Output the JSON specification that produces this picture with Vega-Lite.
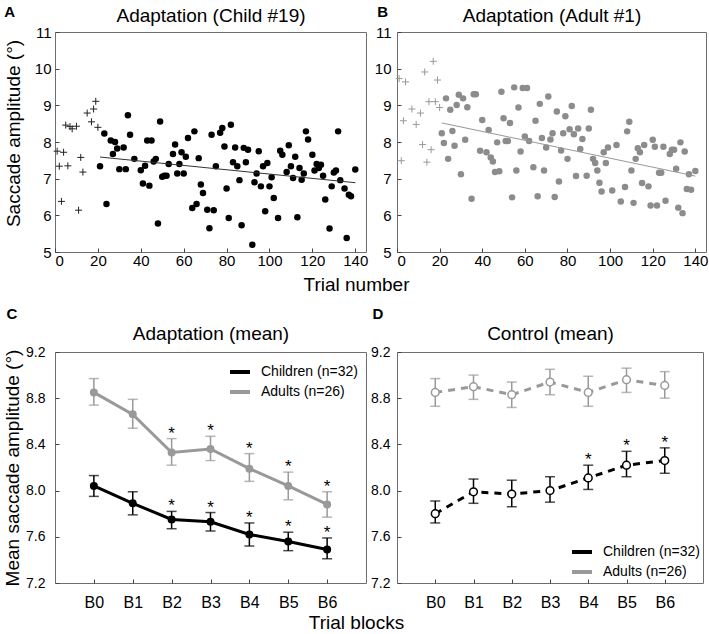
{
  "$schema": "https://vega.github.io/schema/vega-lite/v6.json",
  "padding": {"left": 3, "top": 4, "right": 0, "bottom": 0},
  "background": "white",
  "config": {
    "font": "Liberation Sans",
    "view": {"stroke": "#6e6e6e", "strokeWidth": 1},
    "axis": {"grid": false, "domain": false, "tickSize": -4, "tickColor": "#444", "labelFont": "Liberation Sans", "labelFontSize": 15, "labelColor": "#000", "titleFont": "Liberation Sans", "titleFontSize": 19, "titleFontWeight": "normal", "titleColor": "#000"},
    "title": {"font": "Liberation Sans", "fontSize": 15, "fontWeight": "bold", "anchor": "start", "frame": "bounds", "color": "#000"},
    "legend": {"labelFont": "Liberation Sans", "labelFontSize": 14, "labelColor": "#000"}
  },
  "datasets": {
    "childPre": [
      {"trial": 1, "amp": 7.75}, {"trial": 2, "amp": 7.34}, {"trial": 3, "amp": 6.38}, {"trial": 4, "amp": 7.72}, {"trial": 5, "amp": 8.46}, {"trial": 6, "amp": 7.35}, {"trial": 7, "amp": 8.42}, {"trial": 8, "amp": 8.36}, {"trial": 10, "amp": 8.43}, {"trial": 11, "amp": 6.14}, {"trial": 12, "amp": 7.58}, {"trial": 13, "amp": 7.18}, {"trial": 15, "amp": 8.79}, {"trial": 17, "amp": 8.55}, {"trial": 18, "amp": 8.9}, {"trial": 19, "amp": 9.11}, {"trial": 20, "amp": 8.4}
    ],
    "childAdapt": [
      {"trial": 21, "amp": 7.34}, {"trial": 23, "amp": 8.23}, {"trial": 24, "amp": 6.31}, {"trial": 26, "amp": 8.04}, {"trial": 27, "amp": 7.67}, {"trial": 28, "amp": 8.0}, {"trial": 29, "amp": 7.82}, {"trial": 30, "amp": 7.26}, {"trial": 32, "amp": 7.85}, {"trial": 33, "amp": 7.26}, {"trial": 34, "amp": 8.73}, {"trial": 35, "amp": 8.2}, {"trial": 37, "amp": 7.54}, {"trial": 40, "amp": 7.23}, {"trial": 41, "amp": 6.87}, {"trial": 42, "amp": 7.35}, {"trial": 43, "amp": 8.04}, {"trial": 44, "amp": 6.81}, {"trial": 45, "amp": 8.04}, {"trial": 46, "amp": 7.47}, {"trial": 47, "amp": 7.54}, {"trial": 48, "amp": 5.78}, {"trial": 49, "amp": 8.56}, {"trial": 50, "amp": 7.05}, {"trial": 51, "amp": 7.08}, {"trial": 52, "amp": 7.08}, {"trial": 53, "amp": 7.4}, {"trial": 55, "amp": 7.67}, {"trial": 56, "amp": 7.93}, {"trial": 57, "amp": 7.14}, {"trial": 58, "amp": 7.4}, {"trial": 59, "amp": 7.72}, {"trial": 60, "amp": 7.14}, {"trial": 61, "amp": 7.6}, {"trial": 62, "amp": 8.11}, {"trial": 64, "amp": 6.2}, {"trial": 65, "amp": 8.29}, {"trial": 66, "amp": 6.31}, {"trial": 67, "amp": 7.56}, {"trial": 68, "amp": 6.84}, {"trial": 69, "amp": 6.61}, {"trial": 71, "amp": 6.15}, {"trial": 72, "amp": 5.65}, {"trial": 73, "amp": 8.2}, {"trial": 74, "amp": 6.14}, {"trial": 75, "amp": 7.34}, {"trial": 77, "amp": 8.25}, {"trial": 78, "amp": 8.38}, {"trial": 79, "amp": 7.88}, {"trial": 80, "amp": 6.73}, {"trial": 81, "amp": 5.93}, {"trial": 82, "amp": 8.47}, {"trial": 83, "amp": 7.45}, {"trial": 84, "amp": 7.85}, {"trial": 85, "amp": 7.34}, {"trial": 86, "amp": 6.96}, {"trial": 87, "amp": 5.73}, {"trial": 88, "amp": 7.84}, {"trial": 89, "amp": 7.45}, {"trial": 90, "amp": 7.79}, {"trial": 92, "amp": 5.2}, {"trial": 93, "amp": 6.9}, {"trial": 94, "amp": 7.14}, {"trial": 95, "amp": 7.75}, {"trial": 96, "amp": 6.79}, {"trial": 97, "amp": 7.34}, {"trial": 98, "amp": 6.11}, {"trial": 99, "amp": 7.43}, {"trial": 100, "amp": 6.79}, {"trial": 101, "amp": 7.04}, {"trial": 102, "amp": 6.47}, {"trial": 104, "amp": 5.93}, {"trial": 105, "amp": 7.76}, {"trial": 106, "amp": 7.65}, {"trial": 108, "amp": 7.18}, {"trial": 109, "amp": 7.91}, {"trial": 110, "amp": 7.34}, {"trial": 111, "amp": 7.02}, {"trial": 112, "amp": 7.6}, {"trial": 113, "amp": 5.95}, {"trial": 114, "amp": 7.29}, {"trial": 115, "amp": 6.97}, {"trial": 116, "amp": 7.14}, {"trial": 117, "amp": 8.29}, {"trial": 118, "amp": 8.07}, {"trial": 120, "amp": 7.65}, {"trial": 121, "amp": 7.22}, {"trial": 122, "amp": 7.4}, {"trial": 123, "amp": 7.29}, {"trial": 124, "amp": 7.38}, {"trial": 125, "amp": 7.08}, {"trial": 126, "amp": 6.43}, {"trial": 128, "amp": 5.64}, {"trial": 129, "amp": 6.79}, {"trial": 130, "amp": 7.17}, {"trial": 131, "amp": 7.22}, {"trial": 132, "amp": 8.29}, {"trial": 133, "amp": 6.96}, {"trial": 135, "amp": 6.73}, {"trial": 136, "amp": 5.38}, {"trial": 137, "amp": 6.56}, {"trial": 138, "amp": 6.52}, {"trial": 140, "amp": 7.25}
    ],
    "childFit": [{"trial": 21, "amp": 7.59}, {"trial": 140, "amp": 6.89}],
    "adultPre": [
      {"trial": 1, "amp": 9.73}, {"trial": 2, "amp": 7.49}, {"trial": 3, "amp": 8.58}, {"trial": 4, "amp": 9.64}, {"trial": 7, "amp": 8.9}, {"trial": 9, "amp": 8.48}, {"trial": 11, "amp": 8.79}, {"trial": 12, "amp": 7.93}, {"trial": 13, "amp": 9.91}, {"trial": 14, "amp": 7.45}, {"trial": 15, "amp": 9.1}, {"trial": 16, "amp": 7.79}, {"trial": 17, "amp": 10.2}, {"trial": 18, "amp": 9.1}, {"trial": 19, "amp": 9.69}, {"trial": 20, "amp": 8.94}
    ],
    "adultAdapt": [
      {"trial": 21, "amp": 8.24}, {"trial": 22, "amp": 7.97}, {"trial": 23, "amp": 9.19}, {"trial": 24, "amp": 7.54}, {"trial": 25, "amp": 8.88}, {"trial": 26, "amp": 8.3}, {"trial": 27, "amp": 7.9}, {"trial": 28, "amp": 9.01}, {"trial": 29, "amp": 9.29}, {"trial": 30, "amp": 7.12}, {"trial": 31, "amp": 9.19}, {"trial": 32, "amp": 8.06}, {"trial": 33, "amp": 8.95}, {"trial": 35, "amp": 6.45}, {"trial": 36, "amp": 9.3}, {"trial": 37, "amp": 9.3}, {"trial": 39, "amp": 7.76}, {"trial": 40, "amp": 8.6}, {"trial": 42, "amp": 7.72}, {"trial": 43, "amp": 8.33}, {"trial": 44, "amp": 7.58}, {"trial": 45, "amp": 7.47}, {"trial": 46, "amp": 7.18}, {"trial": 47, "amp": 7.99}, {"trial": 48, "amp": 7.2}, {"trial": 49, "amp": 9.37}, {"trial": 50, "amp": 8.65}, {"trial": 51, "amp": 8.03}, {"trial": 52, "amp": 8.03}, {"trial": 53, "amp": 8.52}, {"trial": 54, "amp": 6.49}, {"trial": 55, "amp": 9.49}, {"trial": 56, "amp": 7.22}, {"trial": 57, "amp": 8.94}, {"trial": 58, "amp": 7.74}, {"trial": 59, "amp": 9.47}, {"trial": 60, "amp": 8.15}, {"trial": 61, "amp": 9.47}, {"trial": 62, "amp": 8.03}, {"trial": 64, "amp": 7.31}, {"trial": 65, "amp": 8.58}, {"trial": 66, "amp": 6.52}, {"trial": 67, "amp": 9.04}, {"trial": 68, "amp": 8.11}, {"trial": 69, "amp": 7.22}, {"trial": 70, "amp": 7.85}, {"trial": 71, "amp": 9.24}, {"trial": 72, "amp": 8.07}, {"trial": 73, "amp": 8.24}, {"trial": 74, "amp": 6.5}, {"trial": 75, "amp": 8.83}, {"trial": 76, "amp": 6.92}, {"trial": 77, "amp": 7.77}, {"trial": 78, "amp": 8.24}, {"trial": 79, "amp": 8.7}, {"trial": 80, "amp": 7.54}, {"trial": 81, "amp": 8.35}, {"trial": 82, "amp": 8.98}, {"trial": 83, "amp": 8.21}, {"trial": 84, "amp": 7.07}, {"trial": 85, "amp": 8.37}, {"trial": 86, "amp": 7.81}, {"trial": 87, "amp": 8.08}, {"trial": 89, "amp": 7.08}, {"trial": 90, "amp": 8.37}, {"trial": 91, "amp": 8.88}, {"trial": 92, "amp": 7.54}, {"trial": 93, "amp": 7.43}, {"trial": 94, "amp": 7.22}, {"trial": 95, "amp": 6.89}, {"trial": 96, "amp": 6.65}, {"trial": 97, "amp": 7.72}, {"trial": 98, "amp": 7.43}, {"trial": 99, "amp": 7.85}, {"trial": 101, "amp": 6.68}, {"trial": 103, "amp": 7.92}, {"trial": 105, "amp": 6.38}, {"trial": 107, "amp": 6.77}, {"trial": 108, "amp": 8.29}, {"trial": 109, "amp": 8.55}, {"trial": 110, "amp": 7.22}, {"trial": 111, "amp": 6.34}, {"trial": 112, "amp": 7.54}, {"trial": 113, "amp": 7.83}, {"trial": 114, "amp": 7.72}, {"trial": 115, "amp": 6.88}, {"trial": 116, "amp": 7.92}, {"trial": 118, "amp": 6.79}, {"trial": 119, "amp": 6.27}, {"trial": 120, "amp": 8.06}, {"trial": 121, "amp": 7.87}, {"trial": 122, "amp": 6.27}, {"trial": 123, "amp": 7.16}, {"trial": 124, "amp": 7.16}, {"trial": 125, "amp": 7.87}, {"trial": 126, "amp": 6.4}, {"trial": 128, "amp": 7.67}, {"trial": 129, "amp": 7.79}, {"trial": 130, "amp": 7.79}, {"trial": 131, "amp": 7.27}, {"trial": 132, "amp": 6.21}, {"trial": 133, "amp": 7.99}, {"trial": 134, "amp": 6.06}, {"trial": 135, "amp": 7.74}, {"trial": 136, "amp": 6.72}, {"trial": 137, "amp": 7.12}, {"trial": 138, "amp": 6.7}, {"trial": 140, "amp": 7.21}
    ],
    "adultFit": [{"trial": 21, "amp": 8.52}, {"trial": 140, "amp": 7.07}],
    "adaptMean": [
      {"block": "B0", "group": "Adults (n=26)", "mean": 8.85, "lo": 8.74, "hi": 8.97, "sig": ""},
      {"block": "B1", "group": "Adults (n=26)", "mean": 8.66, "lo": 8.54, "hi": 8.79, "sig": ""},
      {"block": "B2", "group": "Adults (n=26)", "mean": 8.33, "lo": 8.22, "hi": 8.45, "sig": "*"},
      {"block": "B3", "group": "Adults (n=26)", "mean": 8.36, "lo": 8.26, "hi": 8.47, "sig": "*"},
      {"block": "B4", "group": "Adults (n=26)", "mean": 8.19, "lo": 8.08, "hi": 8.32, "sig": "*"},
      {"block": "B5", "group": "Adults (n=26)", "mean": 8.04, "lo": 7.92, "hi": 8.16, "sig": "*"},
      {"block": "B6", "group": "Adults (n=26)", "mean": 7.88, "lo": 7.77, "hi": 7.99, "sig": "*"},
      {"block": "B0", "group": "Children (n=32)", "mean": 8.04, "lo": 7.95, "hi": 8.13, "sig": ""},
      {"block": "B1", "group": "Children (n=32)", "mean": 7.89, "lo": 7.79, "hi": 7.99, "sig": ""},
      {"block": "B2", "group": "Children (n=32)", "mean": 7.75, "lo": 7.67, "hi": 7.82, "sig": "*"},
      {"block": "B3", "group": "Children (n=32)", "mean": 7.73, "lo": 7.65, "hi": 7.81, "sig": "*"},
      {"block": "B4", "group": "Children (n=32)", "mean": 7.62, "lo": 7.52, "hi": 7.72, "sig": "*"},
      {"block": "B5", "group": "Children (n=32)", "mean": 7.56, "lo": 7.48, "hi": 7.64, "sig": "*"},
      {"block": "B6", "group": "Children (n=32)", "mean": 7.49, "lo": 7.41, "hi": 7.59, "sig": "*"}
    ],
    "controlMean": [
      {"block": "B0", "group": "Adults (n=26)", "mean": 8.85, "lo": 8.73, "hi": 8.97, "sig": ""},
      {"block": "B1", "group": "Adults (n=26)", "mean": 8.9, "lo": 8.79, "hi": 9.0, "sig": ""},
      {"block": "B2", "group": "Adults (n=26)", "mean": 8.83, "lo": 8.72, "hi": 8.94, "sig": ""},
      {"block": "B3", "group": "Adults (n=26)", "mean": 8.94, "lo": 8.83, "hi": 9.05, "sig": ""},
      {"block": "B4", "group": "Adults (n=26)", "mean": 8.85, "lo": 8.73, "hi": 8.99, "sig": ""},
      {"block": "B5", "group": "Adults (n=26)", "mean": 8.96, "lo": 8.85, "hi": 9.06, "sig": ""},
      {"block": "B6", "group": "Adults (n=26)", "mean": 8.91, "lo": 8.8, "hi": 9.03, "sig": ""},
      {"block": "B0", "group": "Children (n=32)", "mean": 7.8, "lo": 7.72, "hi": 7.91, "sig": ""},
      {"block": "B1", "group": "Children (n=32)", "mean": 7.99, "lo": 7.89, "hi": 8.1, "sig": ""},
      {"block": "B2", "group": "Children (n=32)", "mean": 7.97, "lo": 7.86, "hi": 8.09, "sig": ""},
      {"block": "B3", "group": "Children (n=32)", "mean": 8.0, "lo": 7.9, "hi": 8.12, "sig": ""},
      {"block": "B4", "group": "Children (n=32)", "mean": 8.11, "lo": 8.01, "hi": 8.22, "sig": "*"},
      {"block": "B5", "group": "Children (n=32)", "mean": 8.22, "lo": 8.12, "hi": 8.34, "sig": "*"},
      {"block": "B6", "group": "Children (n=32)", "mean": 8.26, "lo": 8.15, "hi": 8.37, "sig": "*"}
    ]
  },
  "columns": 2,
  "bounds": "flush",
  "spacing": {"row": 100, "column": 31},
  "concat": [
    {
      "width": 311, "height": 220,
      "title": {"text": "A", "dy": 18},
      "resolve": {"axis": {"x": "independent"}},
      "layer": [
        {
          "data": {"name": "childPre"},
          "mark": {"type": "point", "shape": "M-1,0L1,0M0,-1L0,1", "filled": false, "color": "#222", "strokeWidth": 1, "size": 49, "opacity": 1},
          "encoding": {
            "x": {"field": "trial", "type": "quantitative", "scale": {"domain": [0, 145], "nice": false}, "axis": {"values": [0, 20, 40, 60, 80, 100, 120, 140], "title": "Trial number", "titleX": 301, "labelPadding": 5, "titlePadding": 7}},
            "y": {"field": "amp", "type": "quantitative", "scale": {"domain": [5, 11], "nice": false, "zero": false}, "axis": {"values": [5, 6, 7, 8, 9, 10, 11], "title": "Saccade amplitude (°)", "labelPadding": 8, "titlePadding": 11, "titleY": 101}}
          }
        },
        {
          "data": {"name": "childAdapt"},
          "mark": {"type": "circle", "color": "#000", "size": 42, "opacity": 1},
          "encoding": {
            "x": {"field": "trial", "type": "quantitative", "axis": null},
            "y": {"field": "amp", "type": "quantitative", "axis": {"values": [5, 6, 7, 8, 9, 10, 11], "title": "Saccade amplitude (°)", "labelPadding": 8, "titlePadding": 11, "titleY": 101}}
          }
        },
        {
          "data": {"name": "childFit"},
          "mark": {"type": "line", "color": "#333", "strokeWidth": 1},
          "encoding": {
            "x": {"field": "trial", "type": "quantitative", "axis": {"orient": "top", "title": "Adaptation (Child #19)", "labels": false, "ticks": false, "titlePadding": 7}},
            "y": {"field": "amp", "type": "quantitative", "axis": {"values": [5, 6, 7, 8, 9, 10, 11], "title": "Saccade amplitude (°)", "labelPadding": 8, "titlePadding": 11, "titleY": 101}}
          }
        }
      ]
    },
    {
      "width": 309, "height": 220,
      "title": {"text": "B", "dy": 18, "dx": 3},
      "resolve": {"axis": {"x": "independent"}},
      "layer": [
        {
          "data": {"name": "adultPre"},
          "mark": {"type": "point", "shape": "M-1,0L1,0M0,-1L0,1", "filled": false, "color": "#999", "strokeWidth": 1, "size": 49, "opacity": 1},
          "encoding": {
            "x": {"field": "trial", "type": "quantitative", "scale": {"domain": [0, 145], "nice": false}, "axis": {"values": [0, 20, 40, 60, 80, 100, 120, 140], "title": null, "labelPadding": 5}},
            "y": {"field": "amp", "type": "quantitative", "scale": {"domain": [5, 11], "nice": false, "zero": false}, "axis": {"values": [5, 6, 7, 8, 9, 10, 11], "title": null, "labelPadding": 10}}
          }
        },
        {
          "data": {"name": "adultAdapt"},
          "mark": {"type": "circle", "color": "#8c8c8c", "size": 42, "opacity": 1},
          "encoding": {
            "x": {"field": "trial", "type": "quantitative", "axis": null},
            "y": {"field": "amp", "type": "quantitative", "axis": {"values": [5, 6, 7, 8, 9, 10, 11], "title": null, "labelPadding": 10}}
          }
        },
        {
          "data": {"name": "adultFit"},
          "mark": {"type": "line", "color": "#999", "strokeWidth": 1},
          "encoding": {
            "x": {"field": "trial", "type": "quantitative", "axis": {"orient": "top", "title": "Adaptation (Adult #1)", "labels": false, "ticks": false, "titlePadding": 7}},
            "y": {"field": "amp", "type": "quantitative", "axis": {"values": [5, 6, 7, 8, 9, 10, 11], "title": null, "labelPadding": 10}}
          }
        }
      ]
    },
    {
      "width": 311, "height": 231,
      "title": {"text": "C", "dy": 2, "dx": 3},
      "data": {"name": "adaptMean"},
      "resolve": {"axis": {"x": "independent"}},
      "layer": [
        {
          "mark": {"type": "line", "strokeWidth": 3},
          "encoding": {
            "x": {"field": "block", "type": "ordinal", "scale": {"type": "point", "padding": 1.05}, "axis": {"title": "Trial blocks", "titleX": 301, "labelAngle": 0, "labelFontSize": 16, "labelPadding": 15, "titlePadding": 3}},
            "y": {"field": "mean", "type": "quantitative", "scale": {"domain": [7.2, 9.2], "nice": false, "zero": false}, "axis": {"values": [7.2, 7.6, 8.0, 8.4, 8.8, 9.2], "format": ".1f", "title": "Mean saccade amplitude (°)", "labelFontSize": 14, "labelPadding": 14, "titlePadding": 3}},
            "color": {"field": "group", "type": "nominal", "scale": {"domain": ["Children (n=32)", "Adults (n=26)"], "range": ["#000000", "#999999"]}, "legend": {"title": null, "orient": "top-right", "offset": 8, "symbolType": "stroke", "symbolStrokeWidth": 4, "symbolSize": 400, "rowPadding": 0, "labelOffset": 9}}
          }
        },
        {
          "mark": {"type": "errorbar", "ticks": {"size": 10, "thickness": 1.5}, "rule": {"strokeWidth": 1.5}},
          "encoding": {
            "x": {"field": "block", "type": "ordinal", "axis": null},
            "y": {"field": "lo", "type": "quantitative", "scale": {"domain": [7.2, 9.2], "nice": false, "zero": false}, "axis": {"values": [7.2, 7.6, 8.0, 8.4, 8.8, 9.2], "format": ".1f", "title": "Mean saccade amplitude (°)", "labelFontSize": 14, "labelPadding": 14, "titlePadding": 3}},
            "y2": {"field": "hi"},
            "color": {"field": "group", "type": "nominal", "legend": null}
          }
        },
        {
          "mark": {"type": "point", "filled": true, "size": 64, "opacity": 1},
          "encoding": {
            "x": {"field": "block", "type": "ordinal", "axis": null},
            "y": {"field": "mean", "type": "quantitative", "axis": {"values": [7.2, 7.6, 8.0, 8.4, 8.8, 9.2], "format": ".1f", "title": "Mean saccade amplitude (°)", "labelFontSize": 14, "labelPadding": 14, "titlePadding": 3}},
            "color": {"field": "group", "type": "nominal", "legend": null}
          }
        },
        {
          "mark": {"type": "text", "fontSize": 17, "baseline": "alphabetic", "color": "#000"},
          "encoding": {
            "x": {"field": "block", "type": "ordinal", "axis": {"orient": "top", "title": "Adaptation (mean)", "labels": false, "ticks": false, "titlePadding": 9}},
            "y": {"field": "hi", "type": "quantitative", "axis": {"values": [7.2, 7.6, 8.0, 8.4, 8.8, 9.2], "format": ".1f", "title": "Mean saccade amplitude (°)", "labelFontSize": 14, "labelPadding": 14, "titlePadding": 3}},
            "text": {"field": "sig"}
          }
        }
      ]
    },
    {
      "width": 306, "height": 231,
      "title": {"text": "D", "dy": 2, "dx": 2},
      "data": {"name": "controlMean"},
      "resolve": {"axis": {"x": "independent"}},
      "layer": [
        {
          "mark": {"type": "line", "strokeWidth": 3, "strokeDash": [7, 6]},
          "encoding": {
            "x": {"field": "block", "type": "ordinal", "scale": {"type": "point", "padding": 1.0}, "axis": {"title": null, "labelAngle": 0, "labelFontSize": 16, "labelPadding": 15}},
            "y": {"field": "mean", "type": "quantitative", "scale": {"domain": [7.2, 9.2], "nice": false, "zero": false}, "axis": {"values": [7.2, 7.6, 8.0, 8.4, 8.8, 9.2], "format": ".1f", "title": null, "labelFontSize": 14, "labelPadding": 11}},
            "color": {"field": "group", "type": "nominal", "scale": {"domain": ["Children (n=32)", "Adults (n=26)"], "range": ["#000000", "#999999"]}, "legend": {"title": null, "orient": "bottom-right", "offset": 3, "symbolType": "stroke", "symbolStrokeWidth": 4, "symbolSize": 400, "symbolDash": [1, 0], "rowPadding": 0, "labelOffset": 9}}
          }
        },
        {
          "mark": {"type": "errorbar", "ticks": {"size": 10, "thickness": 1.5}, "rule": {"strokeWidth": 1.5}},
          "encoding": {
            "x": {"field": "block", "type": "ordinal", "axis": null},
            "y": {"field": "lo", "type": "quantitative", "scale": {"domain": [7.2, 9.2], "nice": false, "zero": false}, "axis": {"values": [7.2, 7.6, 8.0, 8.4, 8.8, 9.2], "format": ".1f", "title": null, "labelFontSize": 14, "labelPadding": 11}},
            "y2": {"field": "hi"},
            "color": {"field": "group", "type": "nominal", "legend": null}
          }
        },
        {
          "mark": {"type": "point", "filled": false, "fill": "white", "fillOpacity": 1, "strokeWidth": 1.5, "size": 60, "opacity": 1},
          "encoding": {
            "x": {"field": "block", "type": "ordinal", "axis": null},
            "y": {"field": "mean", "type": "quantitative", "axis": {"values": [7.2, 7.6, 8.0, 8.4, 8.8, 9.2], "format": ".1f", "title": null, "labelFontSize": 14, "labelPadding": 11}},
            "color": {"field": "group", "type": "nominal", "legend": null}
          }
        },
        {
          "mark": {"type": "text", "fontSize": 17, "baseline": "alphabetic", "color": "#000"},
          "encoding": {
            "x": {"field": "block", "type": "ordinal", "axis": {"orient": "top", "title": "Control (mean)", "labels": false, "ticks": false, "titlePadding": 9}},
            "y": {"field": "hi", "type": "quantitative", "axis": {"values": [7.2, 7.6, 8.0, 8.4, 8.8, 9.2], "format": ".1f", "title": null, "labelFontSize": 14, "labelPadding": 11}},
            "text": {"field": "sig"}
          }
        }
      ]
    }
  ]
}
